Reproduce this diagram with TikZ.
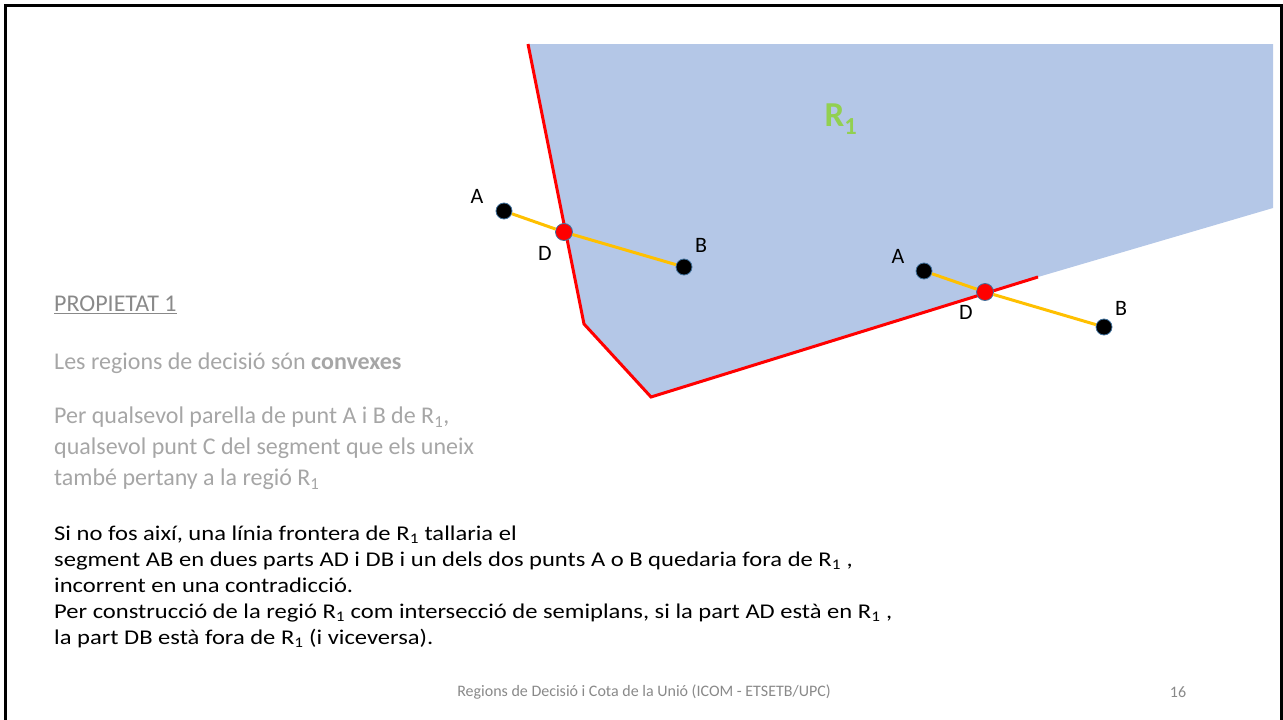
\documentclass[tikz,border=0pt]{standalone}
\usepackage{fontspec}
\setmainfont{Carlito}
\newfontfamily\widefont[FakeStretch=1.17]{Carlito}
\usepackage{xcolor}
\definecolor{regionblue}{HTML}{B4C7E7}
\definecolor{bordred}{HTML}{FF0000}
\definecolor{segyellow}{HTML}{FFC000}
\definecolor{rgreen}{HTML}{92D050}
\definecolor{dotedge}{HTML}{41719C}
\definecolor{lightgrey}{RGB}{166,166,166}
\definecolor{footgrey}{RGB}{137,137,137}
\begin{document}
\begin{tikzpicture}[x=1pt,y=-1pt,
  pt/.style={circle, fill=black, draw=dotedge, line width=0.8pt, minimum size=16pt, inner sep=0pt},
  cut/.style={circle, fill=bordred, draw=dotedge, line width=0.8pt, minimum size=17pt, inner sep=0pt},
  seg/.style={segyellow, line width=3pt},
  lbl/.style={font=\fontsize{22}{26}\selectfont, inner sep=0pt},
  greytxt/.style={font=\fontsize{24}{31}\selectfont, text=lightgrey, align=left, anchor=north west, inner sep=0pt},
  blacktxt/.style={font=\widefont\fontsize{21}{26}\selectfont, align=left, anchor=north west, inner sep=0pt}]
\useasboundingbox (0,0) rectangle (1283,720);
\draw[line width=3pt] (5,720) -- (5,5) -- (1281,5) -- (1281,720);

% region R1
\fill[regionblue] (528,44) -- (1273,44) -- (1273,208) -- (1038,277) -- (651,397) -- (584,324) -- cycle;
\draw[bordred, line width=3pt] (528,44) -- (584,324) -- (651,397) -- (1038,277);
\node[text=rgreen, font=\fontsize{35}{40}\selectfont\bfseries] (r1) at (841,119) {R\textsubscript{1}};

% first segment
\node[pt] (a1) at (504,211) {};
\node[cut] (d1) at (564,232) {};
\node[pt] (b1) at (684,267) {};
\draw[seg] (a1) -- (d1);
\draw[seg] (d1) -- (b1);
\node[lbl] (la1) at (477,196) {A};
\node[lbl] (ld1) at (545,253) {D};
\node[lbl] (lb1) at (701,245) {B};

% second segment
\node[pt] (a2) at (924,271) {};
\node[cut] (d2) at (985,292) {};
\node[pt] (b2) at (1104,327) {};
\draw[seg] (a2) -- (d2);
\draw[seg] (d2) -- (b2);
\node[lbl] (la2) at (898,256) {A};
\node[lbl] (ld2) at (966,312) {D};
\node[lbl] (lb2) at (1121,308) {B};

% text
\node[greytxt, text=footgrey] (prop) at (54,296) {\underline{PROPIETAT 1}};
\node[greytxt] (conv) at (54,353) {Les regions de decisió són \textbf{convexes}};
\node[greytxt] (defn) at (54,407) {Per qualsevol parella de punt A i B de R\textsubscript{1},\\
qualsevol punt C del segment que els uneix\\
també pertany a la regió R\textsubscript{1}};
\node[blacktxt] (proof) at (54,526) {Si no fos així, una línia frontera de R\textsubscript{1} tallaria el\\
segment AB en dues parts AD i DB i un dels dos punts A o B quedaria fora de R\textsubscript{1} ,\\
incorrent en una contradicció.\\
Per construcció de la regió R\textsubscript{1} com intersecció de semiplans, si la part AD està en R\textsubscript{1} ,\\
la part DB està fora de R\textsubscript{1} (i viceversa).};

\node[text=footgrey, font=\fontsize{16}{19}\selectfont] (foot) at (644,692) {Regions de Decisió i Cota de la Unió (ICOM - ETSETB/UPC)};
\node[text=footgrey, font=\fontsize{16}{19}\selectfont] (page) at (1178,692) {16};
\end{tikzpicture}
\end{document}
